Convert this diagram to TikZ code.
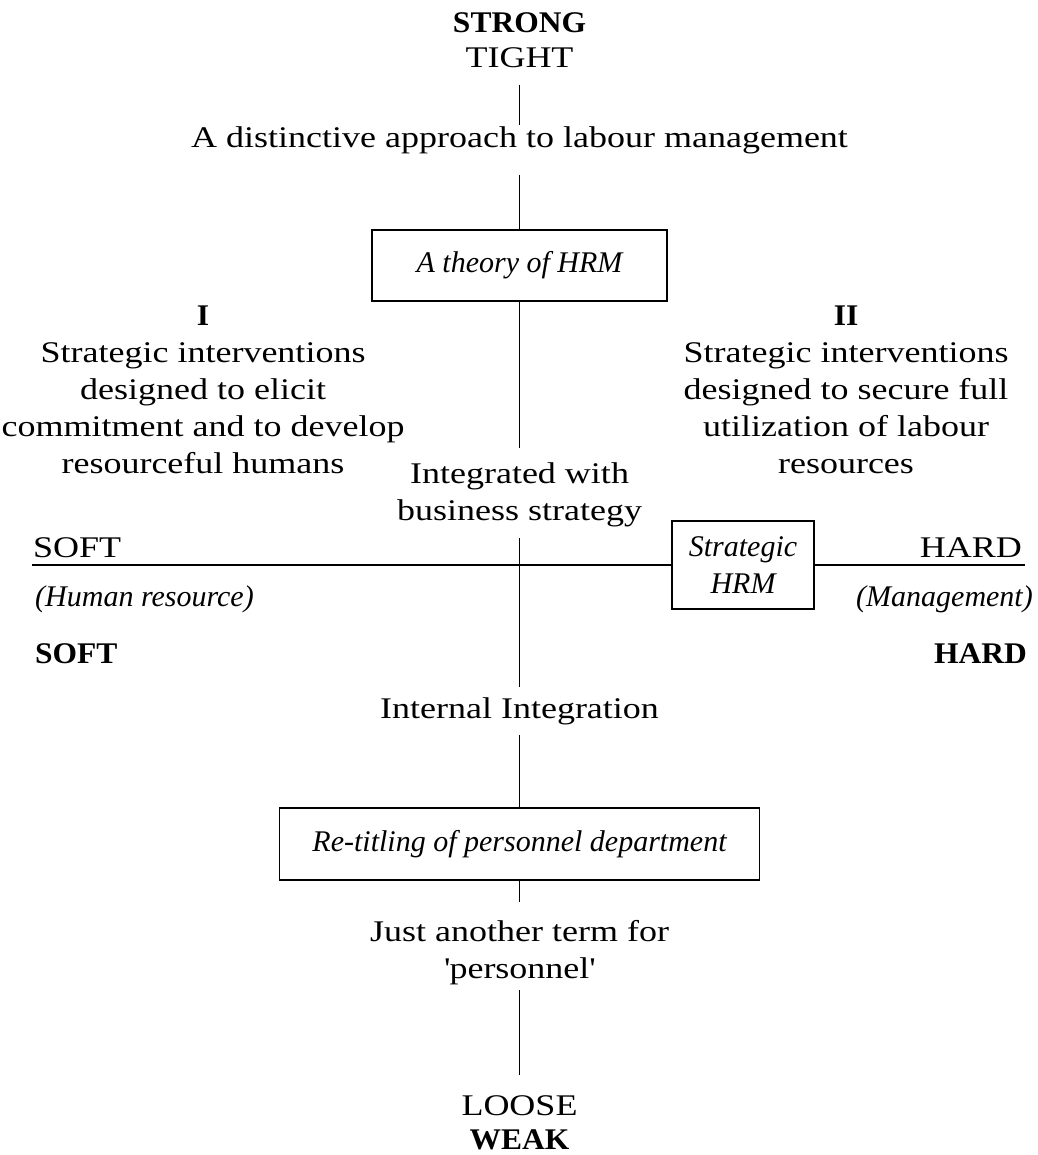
\documentclass[tikz,border=0pt]{standalone}
\usepackage{fontspec}
\setmainfont{Liberation Serif}[FakeStretch=1.2]
\newfontfamily\itf{Liberation Serif}
\newfontfamily\bff{Liberation Serif}[FakeStretch=1.05]
\begin{document}
\begin{tikzpicture}[x=1pt,y=-1pt,
  txt/.style={inner sep=0pt, anchor=base, align=center, font=\fontsize{30}{37}\selectfont},
  bold/.style={txt, font=\bff\bfseries\fontsize{30}{37}\selectfont},
  itxt/.style={txt, font=\itf\itshape\fontsize{30}{37}\selectfont},
  box/.style={draw, line width=1.1pt, inner sep=0pt, align=center, font=\itf\itshape\fontsize{30}{37}\selectfont},
  ln/.style={line width=1.1pt}]
\useasboundingbox (0,0) rectangle (1037,1155);
\node[bold] (strong) at (519.5,33) {STRONG};
\node[txt] (tight) at (519.5,68) {TIGHT};
\node[txt] (distinct) at (519.5,148) {A distinctive approach to labour management};
\node[box, minimum width=295pt, minimum height=71pt] (theory) at (519.5,265.5) {A theory of HRM};
\node[bold] (one) at (203,325) {I};
\node[txt] (left) at (203,473) {Strategic interventions\\designed to elicit\\commitment and to develop\\resourceful humans};
\node[bold] (two) at (846,325) {II};
\node[txt] (right) at (846,473) {Strategic interventions\\designed to secure full\\utilization of labour\\resources};
\node[txt] (integ) at (519.5,520) {Integrated with\\business strategy};
\node[box, minimum width=142pt, minimum height=88pt] (shrm) at (743,565) {Strategic\\HRM};
\coordinate (hl) at (32,565);
\coordinate (hr) at (1025,565);
\node[txt, anchor=base west] (softa) at (33,557) {SOFT};
\node[txt, anchor=base east] (harda) at (1022,557) {HARD};
\node[itxt, anchor=base west] (human) at (35,606) {(Human resource)};
\node[itxt, anchor=base east] (mgmt) at (1033,606) {(Management)};
\node[bold, anchor=base west] (softb) at (35,663) {SOFT};
\node[bold, anchor=base east] (hardb) at (1027,663) {HARD};
\node[txt] (internal) at (519.5,718) {Internal Integration};
\node[box, minimum width=480pt, minimum height=72pt] (retitle) at (519.5,844) {Re-titling of personnel department};
\node[txt] (just) at (519.5,978) {Just another term for\\\textquotesingle personnel\textquotesingle};
\node[txt] (loose) at (519.5,1115) {LOOSE};
\node[bold] (weak) at (519.5,1149) {WEAK};
\draw[ln, shorten <=17pt, shorten >=23pt] (tight.base) -- (distinct.base);
\draw[ln, shorten <=27pt] (distinct.base) -- (theory.north);
\draw[ln, shorten >=72pt] (theory.south) -- (integ.base);
\draw[ln, shorten <=18pt, shorten >=31pt] (integ.base) -- (internal.base);
\draw[ln, shorten <=17pt] (internal.base) -- (retitle.north);
\draw[ln, shorten >=76pt] (retitle.south) -- (just.base);
\draw[ln, shorten <=12pt, shorten >=40pt] (just.base) -- (loose.base);
\draw[ln] (hl) -- (shrm.west);
\draw[ln] (shrm.east) -- (hr);
\end{tikzpicture}
\end{document}
